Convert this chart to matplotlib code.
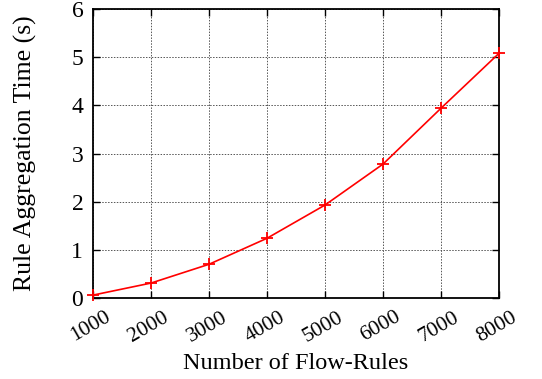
import matplotlib
matplotlib.use("Agg")
import matplotlib.pyplot as plt
import matplotlib.transforms as mtransforms

# Rule aggregation time vs number of flow rules
flow_rules = [1000, 2000, 3000, 4000, 5000, 6000, 7000, 8000]
agg_time = [0.06, 0.31, 0.70, 1.24, 1.93, 2.78, 3.94, 5.08]
y_ticks = [0, 1, 2, 3, 4, 5, 6]

plt.rcParams['font.family'] = ['Liberation Serif', 'DejaVu Serif']

fig = plt.figure(figsize=(5.42, 3.79), dpi=100)
ax = fig.add_axes([93 / 542, 1 - 298 / 379, (499 - 93) / 542, (298 - 9) / 379])

ax.plot(flow_rules, agg_time, color='red', marker='+', markersize=9,
        markeredgewidth=1.3, linewidth=1.2, clip_on=False, zorder=3)

ax.set_xlim(1000, 8000)
ax.set_ylim(0, 6)
ax.set_xticks(flow_rules)
ax.set_yticks(y_ticks)
ax.set_xticklabels([str(v) for v in flow_rules], rotation=30, ha='right',
                   rotation_mode='anchor', fontsize=15.5)
ax.set_yticklabels([str(v) for v in y_ticks], fontsize=17)
ax.tick_params(direction='in', top=True, right=True, length=5, width=1, pad=7)
ax.tick_params(axis='x', pad=7)

# shift rotated tick labels so they sit just right of each tick
shift = mtransforms.ScaledTranslation(12 / 100, 0, fig.dpi_scale_trans)
for lbl in ax.get_xticklabels():
    lbl.set_transform(lbl.get_transform() + shift)

ax.grid(True, color='#555555', linestyle=(0, (1.5, 1.5)), linewidth=0.7)
for s in ax.spines.values():
    s.set_linewidth(1.3)

ax.set_xlabel('Number of Flow-Rules', fontsize=17.5)
ax.xaxis.set_label_coords(0.5, -0.19)
ax.set_ylabel('Rule Aggregation Time (s)', fontsize=18.5)
ax.yaxis.set_label_coords(-0.138, 0.5)

fig.savefig('out.png', dpi=100)
